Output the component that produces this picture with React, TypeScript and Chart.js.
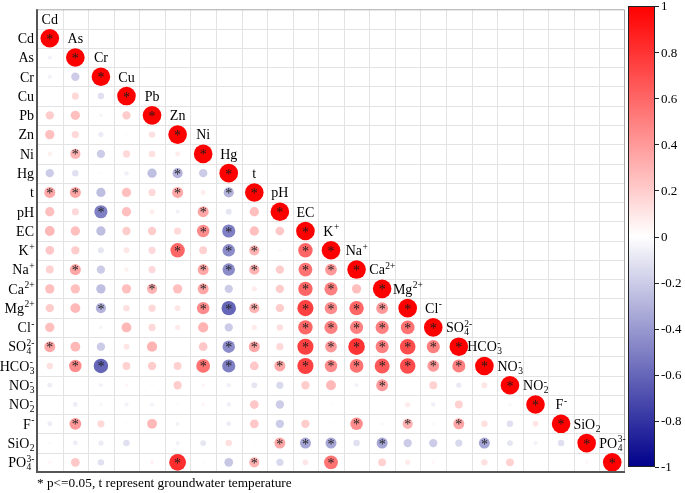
import React, { useEffect, useRef } from "react";
import { Chart, registerables } from "chart.js";
Chart.register(...registerables);

// Variable names (markup: _sub ^sup)
const variables = ["Cd", "As", "Cr", "Cu", "Pb", "Zn", "Ni", "Hg", "t", "pH", "EC", "K^+", "Na^+", "Ca^2+", "Mg^2+", "Cl^-", "SO_4^2-", "HCO_3^-", "NO_3^-", "NO_2^-", "F^-", "SiO_2", "PO_4^3-"];

// Lower-triangle correlation coefficients, one row per variable (columns Cd ... previous variable)
const corrAs = [-0.05];
const corrCr = [-0.05, -0.2];
const corrCu = [0, 0.15, -0.12];
const corrPb = [0.2, 0.25, -0.04, 0.2];
const corrZn = [0.25, 0.15, -0.08, 0.02, 0.12];
const corrNi = [0.06, 0.3, -0.2, 0.15, 0.12, 0.07];
const corrHg = [-0.2, -0.12, -0.02, -0.06, -0.25, -0.3, -0.2];
const corrT = [0.35, 0.35, -0.25, 0.25, 0.15, 0.35, 0.07, -0.3];
const corrPH = [0.25, 0.15, -0.5, 0.25, 0.07, -0.05, 0.35, -0.1, 0.25];
const corrEC = [0.28, 0.25, -0.25, 0.2, 0.2, 0.15, 0.45, -0.5, 0.25, 0.22];
const corrK = [0.22, 0.2, -0.1, 0.1, 0.15, 0.6, 0.18, -0.45, 0.3, -0.03, 0.6];
const corrNa = [0.18, 0.35, -0.2, 0.06, 0.15, 0.01, 0.35, -0.45, 0.3, 0.2, 0.55, 0.4];
const corrCa = [0.25, 0.25, -0.25, 0.25, 0.3, 0.25, 0.35, -0.2, 0.08, 0.2, 0.6, 0.5, 0.25];
const corrMg = [0.2, 0.28, -0.3, 0.12, 0.15, 0.1, 0.45, -0.6, 0.3, 0.2, 0.75, 0.45, 0.6, 0.4];
const corrCl = [0.25, 0, -0.04, 0.28, 0.15, 0.08, 0.3, -0.2, 0.08, 0.12, 0.6, 0.5, 0.5, 0.5, 0.55];
const corrSO4 = [0.35, 0.28, -0.2, 0.1, 0.3, 0.01, 0.22, -0.45, 0.35, 0.15, 0.75, 0.4, 0.8, 0.5, 0.7, 0.5];
const corrHCO3 = [0.12, 0.45, -0.6, 0.18, 0.2, 0.18, 0.55, -0.5, 0.22, 0.35, 0.75, 0.45, 0.55, 0.65, 0.7, 0.4, 0.5];
const corrNO3 = [-0.07, 0.01, -0.05, 0.04, 0.02, 0.2, 0.04, -0.06, -0.1, -0.15, 0.2, 0.28, -0.05, 0.4, 0, 0.18, -0.08, 0.1];
const corrNO2 = [0, -0.07, -0.03, -0.05, -0.05, -0.02, 0.04, -0.06, 0.22, -0.2, 0, 0.02, 0, 0.01, 0.08, -0.06, 0.18, 0, -0.03];
const corrF = [-0.07, 0.4, 0.15, 0.02, 0.28, -0.05, 0.02, -0.07, 0.22, -0.2, 0.2, 0.02, 0.45, -0.03, 0.3, 0.03, 0.35, 0.12, -0.12, 0.1];
const corrSiO2 = [-0.02, -0.07, -0.08, -0.12, 0.01, -0.05, -0.1, 0.12, 0.02, 0.35, -0.35, -0.35, -0.12, -0.35, -0.2, -0.2, -0.15, -0.35, -0.1, -0.05, -0.12];
const corrPO4 = [0.03, 0.22, -0.12, 0, 0.05, 0.82, 0.02, -0.22, 0.3, -0.15, 0.1, 0.55, 0, 0.18, 0.08, 0.03, 0, 0.12, 0.18, 0, 0, 0.03];

// Significant (p<=0.05) column indices per row
const sigAs: number[] = [];
const sigCr: number[] = [];
const sigCu: number[] = [];
const sigPb: number[] = [];
const sigZn: number[] = [];
const sigNi = [1];
const sigHg = [5];
const sigT = [0, 1, 5, 7];
const sigPH = [2, 6];
const sigEC = [6, 7];
const sigK = [5, 7, 8, 10];
const sigNa = [1, 6, 7, 8, 10, 11];
const sigCa = [4, 6, 10, 11];
const sigMg = [2, 6, 7, 8, 10, 11, 12, 13];
const sigCl = [10, 11, 12, 13, 14];
const sigSO4 = [0, 7, 8, 10, 11, 12, 13, 14, 15];
const sigHCO3 = [1, 2, 6, 7, 9, 10, 11, 12, 13, 14, 15, 16];
const sigNO3 = [13];
const sigNO2: number[] = [];
const sigF = [1, 12, 14, 16];
const sigSiO2 = [9, 10, 11, 13, 17];
const sigPO4 = [5, 8, 11];

const colorbarTicks = [1, 0.8, 0.6, 0.4, 0.2, 0, -0.2, -0.4, -0.6, -0.8, -1];
const footnote = "* p<=0.05, t represent groundwater temperature";

const corrRows: number[][] = [[], corrAs, corrCr, corrCu, corrPb, corrZn, corrNi, corrHg, corrT, corrPH, corrEC, corrK, corrNa, corrCa, corrMg, corrCl, corrSO4, corrHCO3, corrNO3, corrNO2, corrF, corrSiO2, corrPO4];
const sigRows: number[][] = [[], sigAs, sigCr, sigCu, sigPb, sigZn, sigNi, sigHg, sigT, sigPH, sigEC, sigK, sigNa, sigCa, sigMg, sigCl, sigSO4, sigHCO3, sigNO3, sigNO2, sigF, sigSiO2, sigPO4];

const R_MAX = 9.3;
const SERIF = "'Liberation Serif', 'Times New Roman', serif";

function colorFor(v: number): string {
  const a = Math.min(1, Math.abs(v));
  if (v >= 0) {
    const g = Math.round(255 * (1 - a));
    return `rgb(255,${g},${g})`;
  }
  const c = Math.round(255 * (1 - a));
  const b = Math.round(255 - (255 - 139) * a);
  return `rgb(${c},${c},${b})`;
}

function parseLabel(s: string) {
  let base = s, sub = "", sup = "";
  const ci = base.indexOf("^");
  if (ci >= 0) { sup = base.slice(ci + 1); base = base.slice(0, ci); }
  const ui = base.indexOf("_");
  if (ui >= 0) { sub = base.slice(ui + 1); base = base.slice(0, ui); }
  return { base, sub, sup };
}

const MAIN_FONT = `14px ${SERIF}`;
const SMALL_FONT = `9.5px ${SERIF}`;

function labelWidth(ctx: CanvasRenderingContext2D, s: string) {
  const l = parseLabel(s);
  ctx.font = MAIN_FONT;
  let w = ctx.measureText(l.base).width;
  ctx.font = SMALL_FONT;
  w += Math.max(l.sub ? ctx.measureText(l.sub).width : 0, l.sup ? ctx.measureText(l.sup).width : 0);
  return w;
}

function drawLabel(ctx: CanvasRenderingContext2D, s: string, x: number, y: number, align: "left" | "right" | "center") {
  const l = parseLabel(s);
  const w = labelWidth(ctx, s);
  let x0 = x;
  if (align === "right") x0 = x - w;
  else if (align === "center") x0 = x - w / 2;
  const baseline = y + 4.8;
  ctx.textAlign = "left";
  ctx.textBaseline = "alphabetic";
  ctx.fillStyle = "#000";
  ctx.font = MAIN_FONT;
  ctx.fillText(l.base, x0, baseline);
  const bw = ctx.measureText(l.base).width;
  ctx.font = SMALL_FONT;
  if (l.sup) ctx.fillText(l.sup, x0 + bw + 0.5, baseline - 5.5);
  if (l.sub) ctx.fillText(l.sub, x0 + bw + 0.5, baseline + 3);
}

const matrixPlugin = {
  id: "matrixDecor",
  beforeDatasetsDraw(chart: any) {
    const { ctx, chartArea, scales } = chart;
    const xs = scales.x, ys = scales.y;
    ctx.save();
    ctx.strokeStyle = "#e3e3e3";
    ctx.lineWidth = 1;
    for (let k = 0; k < variables.length - 1; k++) {
      const px = Math.round(xs.getPixelForValue(k + 0.5)) + 0.5;
      ctx.beginPath(); ctx.moveTo(px, chartArea.top); ctx.lineTo(px, chartArea.bottom); ctx.stroke();
    }
    for (let k = -1; k < variables.length - 1; k++) {
      const py = Math.round(ys.getPixelForValue(k + 0.5)) + 0.5;
      ctx.beginPath(); ctx.moveTo(chartArea.left, py); ctx.lineTo(chartArea.right, py); ctx.stroke();
    }
    ctx.restore();
  },
  afterDatasetsDraw(chart: any) {
    const { ctx, chartArea, scales } = chart;
    const xs = scales.x, ys = scales.y;
    ctx.save();
    // borders
    ctx.strokeStyle = "#a8a8a8";
    ctx.lineWidth = 1;
    ctx.beginPath();
    ctx.moveTo(chartArea.left, chartArea.top + 0.5); ctx.lineTo(chartArea.right - 0.5, chartArea.top + 0.5);
    ctx.lineTo(chartArea.right - 0.5, chartArea.bottom);
    ctx.stroke();
    ctx.strokeStyle = "#555";
    ctx.lineWidth = 2;
    ctx.beginPath();
    ctx.moveTo(chartArea.left, chartArea.top); ctx.lineTo(chartArea.left, chartArea.bottom);
    ctx.lineTo(chartArea.right, chartArea.bottom);
    ctx.stroke();

    // stars
    ctx.fillStyle = "#1c1c1c";
    ctx.font = `14px ${SERIF}`;
    ctx.textAlign = "center";
    ctx.textBaseline = "alphabetic";
    for (let i = 0; i < variables.length; i++) {
      const stars = [...sigRows[i], i];
      for (const j of stars) {
        const px = xs.getPixelForValue(j);
        const py = ys.getPixelForValue(i);
        ctx.fillText("*", px, py + 5.5);
      }
    }

    // y-axis labels & diagonal labels
    for (let i = 0; i < variables.length; i++) {
      drawLabel(ctx, variables[i], chartArea.left - 3, ys.getPixelForValue(i), "right");
      drawLabel(ctx, variables[i], xs.getPixelForValue(i), ys.getPixelForValue(i - 1), "center");
    }

    // colorbar
    const cbL = 628, cbR = 655, cbT = 6, cbB = 467;
    const grad = ctx.createLinearGradient(0, cbT, 0, cbB);
    for (let k = 0; k <= 20; k++) {
      const v = 1 - k / 10;
      grad.addColorStop(k / 20, colorFor(v));
    }
    ctx.fillStyle = grad;
    ctx.fillRect(cbL, cbT, cbR - cbL, cbB - cbT);
    ctx.strokeStyle = "#222";
    ctx.lineWidth = 1;
    ctx.strokeRect(cbL + 0.5, cbT + 0.5, cbR - cbL - 1, cbB - cbT - 1);
    ctx.font = `13px ${SERIF}`;
    ctx.fillStyle = "#000";
    ctx.textAlign = "left";
    ctx.textBaseline = "middle";
    for (const t of colorbarTicks) {
      const py = cbB - ((t + 1) / 2) * (cbB - cbT);
      const yy = Math.round(py) + 0.5;
      ctx.beginPath(); ctx.moveTo(cbR, yy); ctx.lineTo(cbR + 4, yy); ctx.stroke();
      ctx.fillText(String(t), cbR + 6, py + 1);
    }

    // footnote
    ctx.font = `13.3px ${SERIF}`;
    ctx.textAlign = "left";
    ctx.textBaseline = "middle";
    ctx.fillText(footnote, 37, 484);
    ctx.restore();
  },
};

export default function App() {
  const ref = useRef<HTMLCanvasElement | null>(null);
  useEffect(() => {
    if (!ref.current) return;
    const points: any[] = [];
    for (let i = 0; i < variables.length; i++) {
      for (let j = 0; j <= i; j++) {
        const v = j === i ? 1 : corrRows[i][j];
        points.push({ x: j, y: i, v });
      }
    }
    const chart = new Chart(ref.current, {
      type: "scatter",
      data: {
        datasets: [
          {
            data: points,
            pointRadius: (c: any) => R_MAX * Math.sqrt(Math.abs(c.raw ? c.raw.v : 0)),
            pointHoverRadius: (c: any) => R_MAX * Math.sqrt(Math.abs(c.raw ? c.raw.v : 0)),
            backgroundColor: (c: any) => colorFor(c.raw ? c.raw.v : 0),
            borderWidth: 0,
            pointBorderWidth: 0,
          } as any,
        ],
      },
      options: {
        animation: false,
        responsive: false,
        events: [],
        layout: { padding: { left: 37, top: 1, right: 60, bottom: 21 } },
        plugins: { legend: { display: false }, tooltip: { enabled: false } },
        scales: {
          x: { type: "linear", min: -0.5, max: 22.5, display: false },
          y: { type: "linear", min: -1.5, max: 22.5, reverse: true, display: false },
        },
      },
      plugins: [matrixPlugin],
    });
    return () => chart.destroy();
  }, []);
  return (
    <div style={{ position: "fixed", left: 0, top: 0, width: 685, height: 493, background: "#fff" }}>
      <canvas ref={ref} width={685} height={493} style={{ display: "block" }} />
    </div>
  );
}
